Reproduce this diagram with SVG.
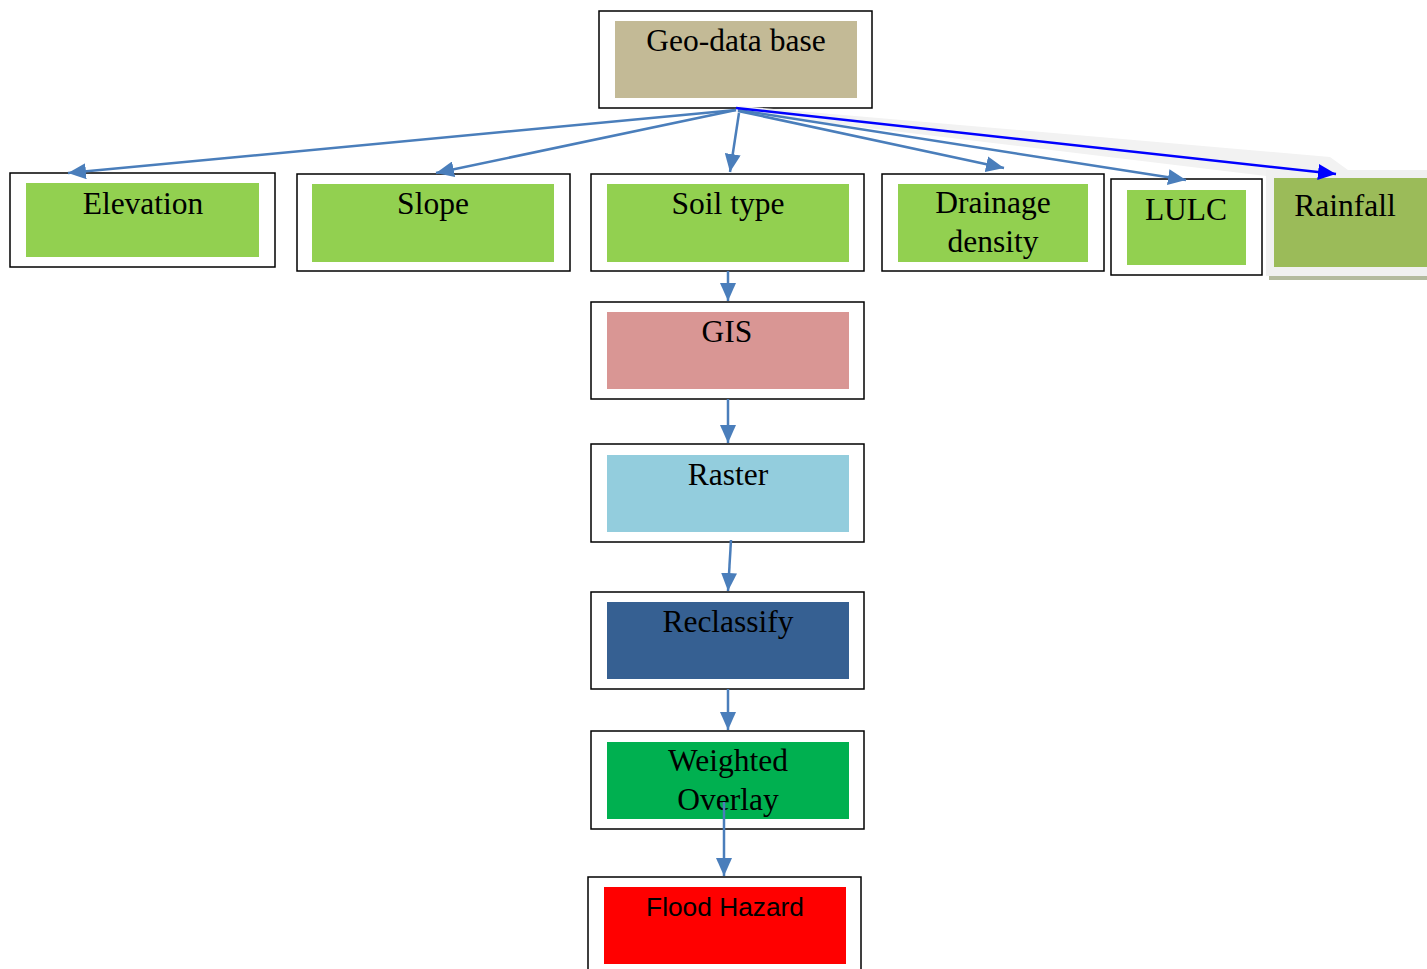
<svg xmlns="http://www.w3.org/2000/svg" width="1427" height="969" viewBox="0 0 1427 969">
<style>
.frame{fill:#fff;stroke:#000;stroke-width:1.5}
.t{font-family:"Liberation Serif",serif;font-size:31.5px;fill:#000;text-anchor:middle}
.s{font-family:"Liberation Sans",sans-serif;font-size:26.3px;fill:#000;text-anchor:middle}
.c{fill:none;stroke:#4A7EBB;stroke-width:2.5}
.cb{fill:none;stroke:#0000FF;stroke-width:2.5}
</style>
<defs>
<marker id="ah" markerUnits="userSpaceOnUse" markerWidth="20" markerHeight="16" refX="18" refY="8" orient="auto"><path d="M0,0 L18,8 L0,16 Z" fill="#4A7EBB"/></marker>
<marker id="ahb" markerUnits="userSpaceOnUse" markerWidth="20" markerHeight="16" refX="18" refY="8" orient="auto"><path d="M0,0 L18,8 L0,16 Z" fill="#0000FF"/></marker>
</defs>
<rect width="1427" height="969" fill="#fff"/>
<g id="geo"><rect class="frame" x="599" y="11" width="273" height="97"/><rect x="615" y="21" width="242" height="77" fill="#C3BA96"/><text class="t" x="736" y="51">Geo-data base</text></g>
<g id="elevation"><rect class="frame" x="10" y="173" width="265" height="94"/><rect x="26" y="183" width="233" height="74" fill="#92D050"/><text class="t" x="143" y="214">Elevation</text></g>
<g id="slope"><rect class="frame" x="297" y="174" width="273" height="97"/><rect x="312" y="184" width="242" height="78" fill="#92D050"/><text class="t" x="433" y="214">Slope</text></g>
<g id="soil"><rect class="frame" x="591" y="174" width="273" height="97"/><rect x="607" y="184" width="242" height="78" fill="#92D050"/><text class="t" x="728" y="214">Soil type</text></g>
<g id="drainage"><rect class="frame" x="882" y="174" width="222" height="97"/><rect x="898" y="184" width="190" height="78" fill="#92D050"/><text class="t" x="993" y="213">Drainage</text><text class="t" x="993" y="252">density</text></g>
<g id="lulc"><rect class="frame" x="1111" y="179" width="151" height="96"/><rect x="1127" y="190" width="119" height="75" fill="#92D050"/><text class="t" x="1186" y="220">LULC</text></g>
<g id="rainfall"><polygon points="740,106 1330,157 1348,170 1266,170 1266,176 736,112" fill="#F2F2F2"/><rect x="1269" y="274" width="158" height="6" fill="#B3BA9E"/><rect x="1266" y="170" width="161" height="106" fill="#F0F0F0"/><rect x="1274" y="178" width="153" height="89" fill="#9BBB59"/><text class="t" x="1345" y="216">Rainfall</text></g>
<g id="gis"><rect class="frame" x="591" y="302" width="273" height="97"/><rect x="607" y="312" width="242" height="77" fill="#D99694"/><text class="t" x="727" y="342">GIS</text></g>
<g id="raster"><rect class="frame" x="591" y="444" width="273" height="98"/><rect x="607" y="455" width="242" height="77" fill="#93CDDD"/><text class="t" x="728" y="485">Raster</text></g>
<g id="reclassify"><rect class="frame" x="591" y="592" width="273" height="97"/><rect x="607" y="602" width="242" height="77" fill="#366092"/><text class="t" x="728" y="632">Reclassify</text></g>
<g id="weighted"><rect class="frame" x="591" y="731" width="273" height="98"/><rect x="607" y="742" width="242" height="77" fill="#00B050"/><text class="t" x="728" y="771">Weighted</text><text class="t" x="728" y="810">Overlay</text></g>
<g id="flood"><rect class="frame" x="588" y="877" width="273" height="100"/><rect x="604" y="887" width="242" height="77" fill="#FF0000"/><text class="s" x="725" y="916">Flood Hazard</text></g>
<g id="connectors">
<line class="c" x1="736" y1="110" x2="68" y2="173" marker-end="url(#ah)"/>
<line class="c" x1="736" y1="110" x2="436" y2="173" marker-end="url(#ah)"/>
<line class="c" x1="739" y1="113" x2="730" y2="172" marker-end="url(#ah)"/>
<line class="c" x1="738" y1="111" x2="1004" y2="168" marker-end="url(#ah)"/>
<line class="c" x1="738" y1="110" x2="1186" y2="180" marker-end="url(#ah)"/>
<line class="cb" x1="736" y1="108" x2="1336" y2="174" marker-end="url(#ahb)"/>
<line class="c" x1="728" y1="271" x2="728" y2="301" marker-end="url(#ah)"/>
<line class="c" x1="728" y1="399" x2="728" y2="443" marker-end="url(#ah)"/>
<line class="c" x1="731" y1="540" x2="728" y2="591" marker-end="url(#ah)"/>
<line class="c" x1="728" y1="689" x2="728" y2="730" marker-end="url(#ah)"/>
<line class="c" x1="724" y1="802" x2="724" y2="876" marker-end="url(#ah)"/>
</g>
</svg>
